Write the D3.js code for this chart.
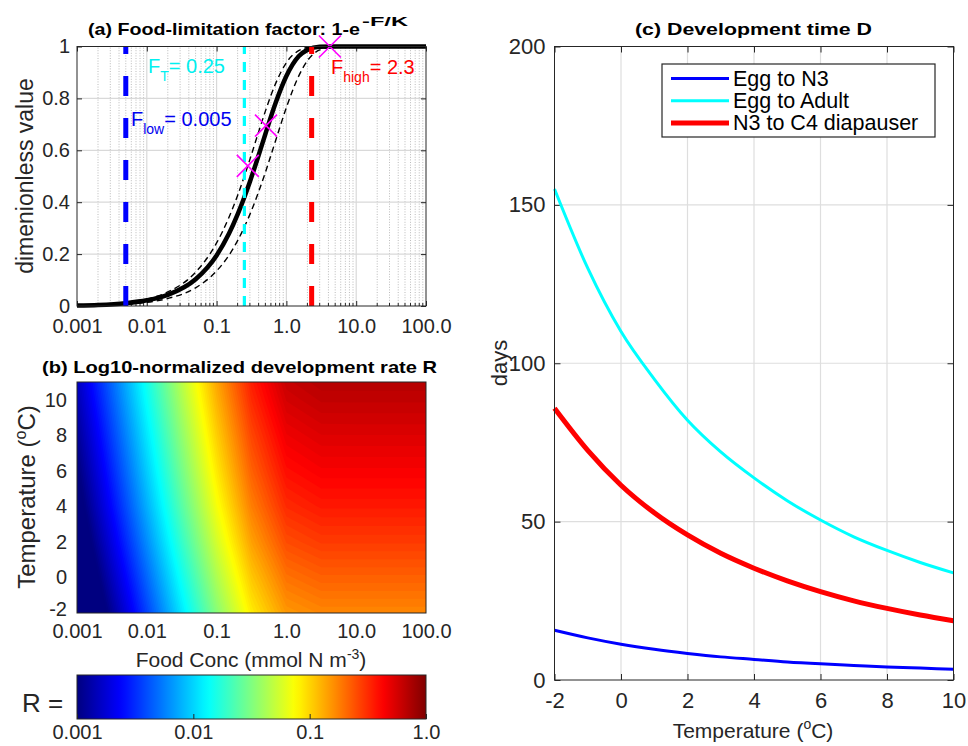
<!DOCTYPE html>
<html>
<head>
<meta charset="utf-8">
<script src="https://cdn.jsdelivr.net/npm/d3@7"></script>
<style>
  body { margin: 0; background: #fff; }
  svg text { font-family: "Liberation Sans", Arial, Helvetica, sans-serif; fill: #262626; }
</style>
</head>
<body>
<svg id="fig" width="968" height="746"></svg>
<script>
// ---------- data ----------

// (a) food limitation factor vs food concentration
var foodF     = [0.001, 0.002, 0.005, 0.01, 0.02, 0.05, 0.1, 0.15, 0.2, 0.3, 0.4, 0.5, 0.7, 1, 1.5, 2, 3, 5, 10, 100];
var limitMid  = [0.002, 0.004, 0.011, 0.022, 0.043, 0.103, 0.195, 0.278, 0.353, 0.479, 0.581, 0.663, 0.782, 0.886, 0.962, 0.987, 0.999, 1, 1, 1];
var limitFast = [0.003, 0.006, 0.014, 0.027, 0.054, 0.130, 0.243, 0.341, 0.426, 0.565, 0.671, 0.751, 0.857, 0.938, 0.984, 0.996, 1, 1, 1, 1];
var limitSlow = [0.001, 0.003, 0.007, 0.014, 0.029, 0.070, 0.135, 0.195, 0.252, 0.353, 0.440, 0.515, 0.637, 0.765, 0.886, 0.945, 0.987, 0.999, 1, 1];
var crossF = [0.28, 0.51, 4.2];
var crossV = [0.54, 0.695, 1.0];
var threshF = [0.005, 0.25, 2.3];
var threshColor = ["#0000ff", "#00ffff", "#ff0000"];

var foodTicks = [0.001, 0.01, 0.1, 1, 10, 100];
var foodTickLabels = ["0.001", "0.01", "0.1", "1.0", "10.0", "100.0"];
var limitTicks = [0, 0.2, 0.4, 0.6, 0.8, 1];
var limitTickLabels = ["0", "0.2", "0.4", "0.6", "0.8", "1"];

// (b) normalized development rate R on a food x temperature grid
var gridFood = [0.001, 0.00316, 0.01, 0.0316, 0.1, 0.316, 1, 3.16, 10, 31.6, 100];
var gridTemp = [-2, 0, 2, 4, 6, 8, 10, 12];
var gridRate = [
  [0.00037, 0.00116, 0.00366, 0.0113, 0.0332, 0.0845, 0.151, 0.170, 0.170, 0.170, 0.170],
  [0.00048, 0.00151, 0.00473, 0.0146, 0.0430, 0.109, 0.195, 0.220, 0.220, 0.220, 0.220],
  [0.00062, 0.00195, 0.00613, 0.0189, 0.0557, 0.142, 0.253, 0.285, 0.285, 0.285, 0.285],
  [0.00078, 0.00247, 0.00774, 0.0239, 0.0703, 0.179, 0.319, 0.360, 0.360, 0.360, 0.360],
  [0.00095, 0.00301, 0.00946, 0.0292, 0.0860, 0.219, 0.390, 0.440, 0.440, 0.440, 0.440],
  [0.00115, 0.00363, 0.0114, 0.0352, 0.1036, 0.263, 0.470, 0.529, 0.530, 0.530, 0.530],
  [0.00139, 0.00438, 0.0138, 0.0425, 0.125, 0.318, 0.567, 0.639, 0.640, 0.640, 0.640],
  [0.00165, 0.00521, 0.0163, 0.0505, 0.149, 0.378, 0.673, 0.759, 0.760, 0.760, 0.760]
];
var tempTicks = [-2, 0, 2, 4, 6, 8, 10];
var rateTicks = [0.001, 0.01, 0.1, 1];
var rateTickLabels = ["0.001", "0.01", "0.1", "1.0"];

// (c) development time vs temperature
var temps      = [-2, -1, 0, 1, 2, 3, 4, 5, 6, 7, 8, 9, 10];
var eggToN3    = [15.7, 13.3, 11.3, 9.7, 8.4, 7.3, 6.5, 5.7, 5.1, 4.6, 4.1, 3.75, 3.4];
var eggToAdult = [155, 130, 110, 95, 82, 72, 63.8, 56.6, 50.5, 45.2, 40.9, 37.1, 33.8];
var n3ToC4     = [85.8, 72.5, 61.5, 52.8, 45.8, 40.0, 35.3, 31.3, 27.9, 25.0, 22.6, 20.5, 18.7];
var seriesNames = ["Egg to N3", "Egg to Adult", "N3 to C4 diapauser"];
var seriesColors = ["#0000ff", "#00ffff", "#ff0000"];
var seriesWidths = [3, 3, 5];
var daysTicks = [0, 50, 100, 150, 200];

// ---------- helpers ----------
var svg = d3.select("#fig");
var AX = "#262626";

function jet(t) {
  t = Math.max(0, Math.min(1, t));
  var c = function(v) { return Math.round(255 * Math.max(0, Math.min(1, v))); };
  return "rgb(" + c(1.5 - Math.abs(4 * t - 3)) + "," + c(1.5 - Math.abs(4 * t - 2)) + "," + c(1.5 - Math.abs(4 * t - 1)) + ")";
}
// plain hyphen for negative ticks, like the original
var plain = function(d) { return String(d); };

function styleAxis(g, size) {
  g.attr("font-family", null).attr("font-size", null);
  g.select(".domain").remove();
  g.selectAll(".tick line").attr("stroke", AX);
  g.selectAll(".tick text").style("font-size", size + "px").attr("fill", AX);
}

// ---------- panel (a) ----------
var xa = d3.scaleLog().domain([0.001, 100]).range([77, 426]);
var ya = d3.scaleLinear().domain([0, 1]).range([306, 46.5]);
var ga = svg.append("g");

var minorF = [];
[0.001, 0.01, 0.1, 1, 10].forEach(function(d) { for (var k = 2; k < 10; k++) minorF.push(d * k); });

ga.selectAll(".minor").data(minorF).enter().append("line")
    .attr("x1", function(d) { return xa(d); }).attr("x2", function(d) { return xa(d); })
    .attr("y1", ya(0)).attr("y2", ya(1))
    .attr("stroke", "#aaaaaa").attr("stroke-width", 0.8).attr("stroke-dasharray", "1,1.6");
ga.selectAll(".majx").data(foodTicks.slice(1, -1)).enter().append("line")
    .attr("x1", function(d) { return xa(d); }).attr("x2", function(d) { return xa(d); })
    .attr("y1", ya(0)).attr("y2", ya(1))
    .attr("stroke", "#d9d9d9").attr("stroke-width", 1.2);
ga.selectAll(".majy").data(limitTicks.slice(1, -1)).enter().append("line")
    .attr("x1", xa(0.001)).attr("x2", xa(100))
    .attr("y1", function(d) { return ya(d); }).attr("y2", function(d) { return ya(d); })
    .attr("stroke", "#d9d9d9").attr("stroke-width", 1.2);

ga.append("g").attr("transform", "translate(0,306)")
    .call(d3.axisBottom(xa).tickValues(foodTicks).tickSize(-5).tickSizeOuter(0).tickPadding(13)
      .tickFormat(function(d, i) { return foodTickLabels[i]; }))
    .call(styleAxis, 20);
ga.append("g").attr("transform", "translate(0,46.5)")
    .call(d3.axisTop(xa).tickValues(foodTicks).tickSize(-5).tickSizeOuter(0).tickFormat(""))
    .call(styleAxis, 20);
ga.append("g").attr("transform", "translate(77,0)")
    .call(d3.axisLeft(ya).tickValues(limitTicks).tickSize(-5).tickSizeOuter(0).tickPadding(7)
      .tickFormat(function(d, i) { return limitTickLabels[i]; }))
    .call(styleAxis, 20);
ga.append("g").attr("transform", "translate(426,0)")
    .call(d3.axisRight(ya).tickValues(limitTicks).tickSize(-5).tickSizeOuter(0).tickFormat(""))
    .call(styleAxis, 20);
ga.selectAll(".mtick").data(minorF).enter().append("line")
    .attr("x1", function(d) { return xa(d); }).attr("x2", function(d) { return xa(d); })
    .attr("y1", 306).attr("y2", 303).attr("stroke", AX);

var lineA = d3.line()
    .x(function(d) { return xa(d[0]); })
    .y(function(d) { return ya(d[1]); })
    .curve(d3.curveMonotoneX);

[limitFast, limitSlow].forEach(function(vals) {
  ga.append("path").datum(foodF.map(function(f, i) { return [f, vals[i]]; }))
      .attr("d", lineA).attr("fill", "none").attr("stroke", "#000")
      .attr("stroke-width", 1.4).attr("stroke-dasharray", "6,4");
});
ga.append("path").datum(foodF.map(function(f, i) { return [f, limitMid[i]]; }))
    .attr("d", lineA).attr("fill", "none").attr("stroke", "#000").attr("stroke-width", 4.5);

ga.selectAll(".thr").data(threshF).enter().append("line")
    .attr("x1", function(d) { return xa(d); }).attr("x2", function(d) { return xa(d); })
    .attr("y1", ya(0)).attr("y2", ya(1))
    .attr("stroke", function(d, i) { return threshColor[i]; })
    .attr("stroke-width", function(d, i) { return i === 1 ? 3.2 : 5; })
    .attr("stroke-dasharray", function(d, i) { return i === 1 ? "10,8" : "20,22"; });

ga.selectAll(".cross").data(crossF).enter().append("path")
    .attr("transform", function(d, i) { return "translate(" + xa(d) + "," + ya(crossV[i]) + ")"; })
    .attr("d", "M-11,-11L11,11M-11,11L11,-11")
    .attr("stroke", "#ff00ff").attr("stroke-width", 1.6).attr("fill", "none");

ga.append("rect").attr("x", 77).attr("y", 46.5).attr("width", 349).attr("height", 259.5)
    .attr("fill", "none").attr("stroke", AX).attr("stroke-width", 1);

function subLabel(x, y, main, sub, rest, color) {
  var t = ga.append("text").attr("x", x).attr("y", y).style("font-size", "20px").style("fill", color);
  t.append("tspan").text(main);
  t.append("tspan").attr("dy", 8).style("font-size", "14px").text(sub);
  t.append("tspan").attr("dy", -8).text(rest);
}
subLabel(148, 73, "F", "T", "= 0.25", "#00f0f0");
subLabel(131, 126, "F", "low", "= 0.005", "#0000f0");
subLabel(331, 74, "F", "high", "= 2.3", "#ff0000");

ga.append("text").attr("transform", "translate(33,176) rotate(-90)")
    .attr("text-anchor", "middle").style("font-size", "23px").text("dimenionless value");

svg.append("text").attr("x", 88).attr("y", 35).style("font-size", "17px").style("font-weight", "bold")
    .attr("textLength", 272).attr("lengthAdjust", "spacingAndGlyphs").style("fill", "#000")
    .text("(a) Food-limitation factor: 1-e");
svg.append("text").attr("x", 362).attr("y", 26).style("font-size", "13px").style("font-weight", "bold")
    .attr("textLength", 46).attr("lengthAdjust", "spacingAndGlyphs").style("fill", "#000")
    .text("-F/K");

// ---------- panel (b) ----------
var xb = d3.scaleLog().domain([0.001, 100]).range([77, 426]);
var yb = d3.scaleLinear().domain([-2, 11]).range([613, 382]);
var gb = svg.append("g");

svg.append("clipPath").attr("id", "clipB").append("rect")
    .attr("x", 77).attr("y", 382).attr("width", 349).attr("height", 231);

var nx = gridFood.length, ny = gridTemp.length;
var logVals = [];
gridRate.forEach(function(row) { row.forEach(function(v) { logVals.push(Math.log10(v)); }); });
var levels = d3.range(-3.5, 0.001, 0.025);
var bands = d3.contours().size([nx, ny]).thresholds(levels)(logVals);

function gridToPx(gx) {
  var s = gx - 0.5, i = Math.max(0, Math.min(nx - 2, Math.floor(s)));
  var l0 = Math.log10(gridFood[i]), l1 = Math.log10(gridFood[i + 1]);
  return xb(Math.pow(10, l0 + (s - i) * (l1 - l0)));
}
function gridToPy(gy) {
  var s = gy - 0.5, j = Math.max(0, Math.min(ny - 2, Math.floor(s)));
  return yb(gridTemp[j] + (s - j) * (gridTemp[j + 1] - gridTemp[j]));
}
var gridPath = d3.geoPath(d3.geoTransform({
  point: function(x, y) { this.stream.point(gridToPx(x), gridToPy(y)); }
}));

gb.append("g").attr("clip-path", "url(#clipB)")
  .selectAll("path").data(bands).enter().append("path")
    .attr("d", gridPath)
    .attr("fill", function(d) { return jet((d.value + 3 + 0.0125) / 3); })
    .attr("stroke", "none");

gb.append("rect").attr("x", 77).attr("y", 382).attr("width", 349).attr("height", 231)
    .attr("fill", "none").attr("stroke", AX).attr("stroke-width", 1);

gb.append("g").attr("transform", "translate(0,613)")
    .call(d3.axisBottom(xb).tickValues(foodTicks).tickSize(0).tickPadding(11)
      .tickFormat(function(d, i) { return foodTickLabels[i]; }))
    .call(styleAxis, 20);
gb.append("g").attr("transform", "translate(77,0)")
    .call(d3.axisLeft(yb).tickValues(tempTicks).tickSize(0).tickPadding(10).tickFormat(plain))
    .call(styleAxis, 20);
gb.selectAll(".tick text").filter(function(d) { return d === -2; }).attr("dy", "0.1em");

var xlb = gb.append("text").attr("x", 251).attr("y", 667).attr("text-anchor", "middle").style("font-size", "21px");
xlb.append("tspan").text("Food Conc (mmol N m");
xlb.append("tspan").attr("dy", -8).style("font-size", "14px").text("-3");
xlb.append("tspan").attr("dy", 8).text(")");

var ylb = gb.append("text").attr("transform", "translate(35,497) rotate(-90)")
    .attr("text-anchor", "middle").style("font-size", "24px");
ylb.append("tspan").text("Temperature (");
ylb.append("tspan").attr("dy", -9).style("font-size", "16px").text("o");
ylb.append("tspan").attr("dy", 9).text("C)");

svg.append("text").attr("x", 42).attr("y", 373).style("font-size", "17px").style("font-weight", "bold")
    .attr("textLength", 395).attr("lengthAdjust", "spacingAndGlyphs").style("fill", "#000")
    .text("(b) Log10-normalized development rate R");

// colorbar
var xc = d3.scaleLog().domain([0.001, 1]).range([77, 426]);
var grad = svg.append("defs").append("linearGradient").attr("id", "jetGrad");
grad.selectAll("stop").data(d3.range(0, 1.0001, 0.02)).enter().append("stop")
    .attr("offset", function(d) { return (d * 100) + "%"; })
    .attr("stop-color", function(d) { return jet(d); });
svg.append("rect").attr("x", 77).attr("y", 675).attr("width", 349).attr("height", 44)
    .attr("fill", "url(#jetGrad)").attr("stroke", AX).attr("stroke-width", 1);
svg.append("g").attr("transform", "translate(0,719)")
    .call(d3.axisBottom(xc).tickValues(rateTicks).tickSize(-5).tickSizeOuter(0).tickPadding(6)
      .tickFormat(function(d, i) { return rateTickLabels[i]; }))
    .call(styleAxis, 20);
svg.append("text").attr("x", 22).attr("y", 712).style("font-size", "26px").text("R =");

// ---------- panel (c) ----------
var xd = d3.scaleLinear().domain([-2, 10]).range([554.5, 953.5]);
var yd = d3.scaleLinear().domain([0, 200]).range([680, 46.5]);
var gc = svg.append("g");

gc.selectAll(".gx").data(tempTicks.slice(1, -1)).enter().append("line")
    .attr("x1", function(d) { return xd(d); }).attr("x2", function(d) { return xd(d); })
    .attr("y1", yd(0)).attr("y2", yd(200)).attr("stroke", "#dedede").attr("stroke-width", 1.2);
gc.selectAll(".gy").data(daysTicks.slice(1, -1)).enter().append("line")
    .attr("x1", xd(-2)).attr("x2", xd(10))
    .attr("y1", function(d) { return yd(d); }).attr("y2", function(d) { return yd(d); })
    .attr("stroke", "#dedede").attr("stroke-width", 1.2);

gc.append("g").attr("transform", "translate(0,680)")
    .call(d3.axisBottom(xd).tickValues(tempTicks).tickSize(-6).tickSizeOuter(0).tickPadding(12).tickFormat(plain))
    .call(styleAxis, 22);
gc.append("g").attr("transform", "translate(0,46.5)")
    .call(d3.axisTop(xd).tickValues(tempTicks).tickSize(-6).tickSizeOuter(0).tickFormat(""))
    .call(styleAxis, 22);
gc.append("g").attr("transform", "translate(554.5,0)")
    .call(d3.axisLeft(yd).tickValues(daysTicks).tickSize(-6).tickSizeOuter(0).tickPadding(9))
    .call(styleAxis, 22);
gc.append("g").attr("transform", "translate(953.5,0)")
    .call(d3.axisRight(yd).tickValues(daysTicks).tickSize(-6).tickSizeOuter(0).tickFormat(""))
    .call(styleAxis, 22);

var lineC = d3.line()
    .x(function(d) { return xd(d[0]); })
    .y(function(d) { return yd(d[1]); })
    .curve(d3.curveMonotoneX);
[eggToN3, eggToAdult, n3ToC4].forEach(function(vals, k) {
  gc.append("path").datum(temps.map(function(t, i) { return [t, vals[i]]; }))
      .attr("d", lineC).attr("fill", "none")
      .attr("stroke", seriesColors[k]).attr("stroke-width", seriesWidths[k]);
});

gc.append("rect").attr("x", 554.5).attr("y", 46.5).attr("width", 399).attr("height", 633.5)
    .attr("fill", "none").attr("stroke", AX).attr("stroke-width", 1);

var leg = gc.append("g").attr("transform", "translate(662,64)");
leg.append("rect").attr("width", 273).attr("height", 73)
    .attr("fill", "#fff").attr("stroke", AX).attr("stroke-width", 1.2);
seriesNames.forEach(function(name, k) {
  var y = 14.5 + k * 22.2;
  leg.append("line").attr("x1", 9).attr("x2", 67).attr("y1", y).attr("y2", y)
      .attr("stroke", seriesColors[k]).attr("stroke-width", seriesWidths[k]);
  leg.append("text").attr("x", 71).attr("y", y + 7.5).style("font-size", "21.5px").style("fill", "#000").text(name);
});

var xlc = gc.append("text").attr("x", 753).attr("y", 738).attr("text-anchor", "middle").style("font-size", "21px");
xlc.append("tspan").text("Temperature (");
xlc.append("tspan").attr("dy", -9).style("font-size", "14px").text("o");
xlc.append("tspan").attr("dy", 9).text("C)");

gc.append("text").attr("transform", "translate(507,363) rotate(-90)")
    .attr("text-anchor", "middle").style("font-size", "22px").text("days");

svg.append("text").attr("x", 635).attr("y", 35).style("font-size", "17px").style("font-weight", "bold")
    .attr("textLength", 237).attr("lengthAdjust", "spacingAndGlyphs").style("fill", "#000")
    .text("(c) Development time D");
</script>
</body>
</html>
